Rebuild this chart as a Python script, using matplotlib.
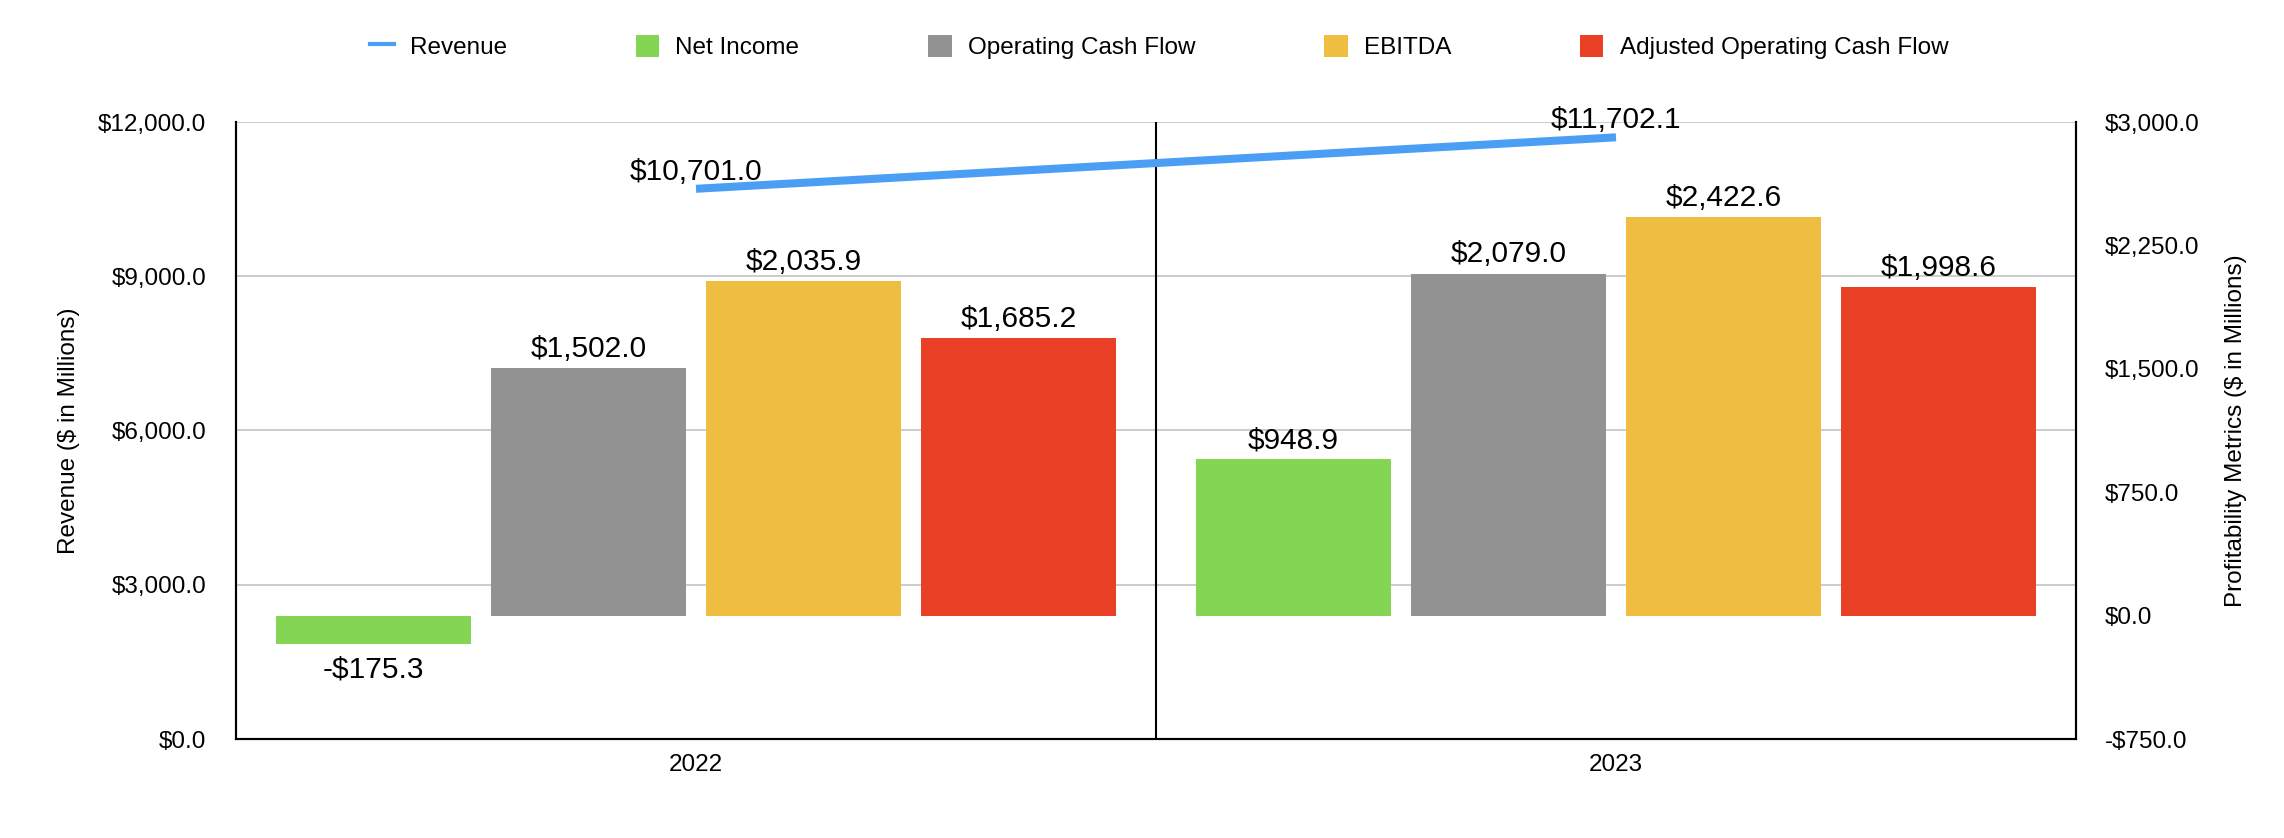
import matplotlib.pyplot as plt
import numpy as np
from matplotlib.lines import Line2D
from matplotlib.patches import Patch

plt.rcParams['font.family'] = ['Liberation Sans', 'DejaVu Sans']

years = ['2022', '2023']
revenue = [10701.0, 11702.1]
net_income = [-175.3, 948.9]
op_cash_flow = [1502.0, 2079.0]
ebitda = [2035.9, 2422.6]
adj_op_cash_flow = [1685.2, 1998.6]

bar_names = ['Net Income', 'Operating Cash Flow', 'EBITDA', 'Adjusted Operating Cash Flow']
bar_colors = ['#83d553', '#929292', '#efbd40', '#ea4126']
line_color = '#4a9ff5'

def money(v):
    s = '${:,.1f}'.format(abs(v))
    return '-' + s if v < 0 else s

fig = plt.figure(figsize=(22.84, 8.38), dpi=100)
ax = fig.add_axes([236 / 2284, 1 - 739 / 838, 1840 / 2284, 617 / 838])
ax2 = ax.twinx()

x = np.arange(len(years))

# left axis: revenue + grid
ax.set_xlim(-0.5, 1.5)
ax.set_ylim(0, 12000)
ax.set_yticks(np.arange(0, 12001, 3000))
ax.set_yticklabels([money(v) for v in np.arange(0, 12001, 3000)])
ax.grid(axis='y', color='#c4c4c4', linewidth=1.2)
ax.set_axisbelow(True)
ax.axvline(0.5, color='black', linewidth=1.5)
ax.plot(x, revenue, color=line_color, linewidth=5.8, solid_capstyle='butt', zorder=3)
for xi, v in zip(x, revenue):
    ax.annotate(money(v), (xi, v), xytext=(0, 6.5), textcoords='offset points',
                ha='center', va='baseline', fontsize=21.5, zorder=4)

# right axis: profitability bars
ax2.set_ylim(-750, 3000)
ax2.set_yticks(np.arange(-750, 3001, 750))
ax2.set_yticklabels([money(v) for v in np.arange(-750, 3001, 750)])

series = [net_income, op_cash_flow, ebitda, adj_op_cash_flow]
pitch = 0.2337
width = 0.213
for i, (vals, col) in enumerate(zip(series, bar_colors)):
    pos = x + (i - 1.5) * pitch
    ax2.bar(pos, vals, width=width, color=col)
    for p, v in zip(pos, vals):
        if v >= 0:
            ax2.annotate(money(v), (p, v), xytext=(0, 8), textcoords='offset points',
                         ha='center', va='baseline', fontsize=21.5)
        else:
            ax2.annotate(money(v), (p, v), xytext=(0, -23.8), textcoords='offset points',
                         ha='center', va='baseline', fontsize=21.5)

ax.set_xticks(x)
ax.set_xticklabels(years)

for a in (ax, ax2):
    a.spines['top'].set_visible(False)
    for s in ('left', 'right', 'bottom'):
        a.spines[s].set_linewidth(1.5)
        a.spines[s].set_color('black')
    a.tick_params(length=0, labelsize=17.5)
ax.tick_params(axis='y', pad=21.5)
ax2.tick_params(axis='y', pad=21)
ax.tick_params(axis='x', pad=10.5)

ax.set_ylabel('Revenue ($ in Millions)', fontsize=17.5)
ax.yaxis.set_label_coords((80 - 236) / 1840, 0.5)
ax2.set_ylabel('Profitability Metrics ($ in Millions)', fontsize=17.5)
ax2.yaxis.set_label_coords((2225 - 236) / 1840, 0.5)

handles = [Line2D([0], [0], color=line_color, linewidth=3)]
handles += [Patch(facecolor=c) for c in bar_colors]
fig.legend(handles, ['Revenue'] + bar_names, loc='center', bbox_to_anchor=(0.5075, 1 - 47 / 838),
           ncol=5, frameon=False, fontsize=17.5, handlelength=0.97, handleheight=1.0,
           handletextpad=0.66, columnspacing=5.3)

fig.savefig('out.png', dpi=100)
